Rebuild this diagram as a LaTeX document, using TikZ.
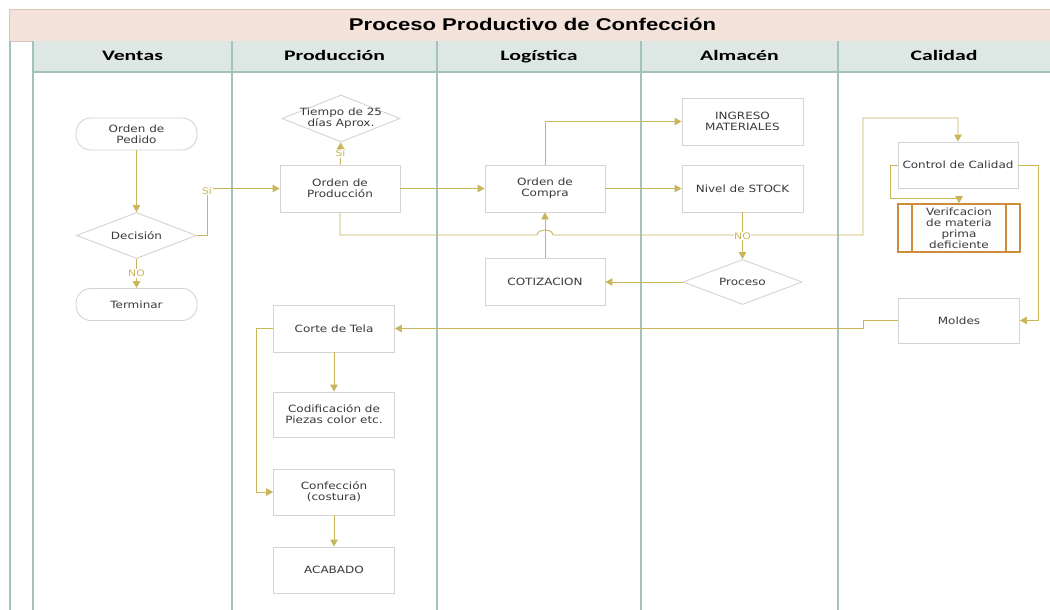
\documentclass[tikz,border=0pt]{standalone}
\usepackage{fontspec}
\usetikzlibrary{arrows.meta,shapes.geometric}
\newfontfamily\nodefont[FakeStretch=1.2]{DejaVu Sans}
\newfontfamily\titlefont[FakeStretch=1.3]{Liberation Sans}
\newfontfamily\headfont[FakeStretch=1.5]{Carlito}
\definecolor{flow}{HTML}{C9B55A}
\definecolor{lanecol}{HTML}{A3C2BA}
\definecolor{boxcol}{HTML}{D4D4D4}
\definecolor{txtcol}{HTML}{3A3A3A}
\definecolor{titlefill}{HTML}{F4E3DA}
\definecolor{titleline}{HTML}{D9C6BB}
\definecolor{headfill}{HTML}{DDE8E4}
\definecolor{subcol}{HTML}{D08A3A}
\tikzset{
  txt/.style={text=txtcol, font=\nodefont\fontsize{10}{11}\selectfont, align=center},
  stepbox/.style={rectangle, draw=boxcol, line width=0.9pt, fill=white, minimum width=121pt, minimum height=46pt, inner sep=2pt, txt},
  terminal/.style={rectangle, rounded corners=15pt, draw=boxcol, line width=0.9pt, fill=white, minimum width=121pt, minimum height=32pt, inner sep=2pt, txt},
  decision/.style={diamond, draw=boxcol, line width=0.9pt, fill=white, minimum width=120pt, minimum height=46pt, inner sep=0pt},
  dtext/.style={txt},
  subproc/.style={rectangle, draw=subcol, line width=1.6pt, fill=white, minimum width=122pt, minimum height=48pt, inner sep=1pt, txt},
  arr/.style={draw=flow, line width=0.9pt, -{Triangle[length=7pt,width=7.5pt]}},
  lbl/.style={text=flow, font=\nodefont\fontsize{9}{10}\selectfont, fill=white, inner sep=0.6pt},
  lane/.style={draw=lanecol, line width=1.3pt},
  headtxt/.style={font=\headfont\bfseries\fontsize{14.5}{16}\selectfont, text=black, anchor=base}
}
\begin{document}
\begin{tikzpicture}[x=1pt,y=-1pt]
\useasboundingbox (0,0) rectangle (1050,610);
\fill[white] (0,0) rectangle (1050,610);

% title bar and lane header row
\fill[titlefill] (9,9) rectangle (1052,41);
\draw[titleline, line width=0.8pt] (1052,9) -- (9,9) -- (9,41) -- (1052,41);
\node[font=\titlefont\bfseries\fontsize{17}{19}\selectfont, anchor=base] (title) at (532.5,31) {Proceso Productivo de Confección};
\fill[headfill] (33,41) rectangle (1052,72);
\draw[lanecol, line width=1.8pt] (33,72) -- (1052,72);

% lane separators
\foreach \lx in {10,33,232,437,641,838} {
  \draw[lane] (\lx,41) -- (\lx,610);
}

% lane names
\node[headtxt] (hventas) at (132.5,61) {Ventas};
\node[headtxt] (hprod) at (334.5,61) {Producción};
\node[headtxt] (hlog) at (539,61) {Logística};
\node[headtxt] (halm) at (739.5,61) {Almacén};
\node[headtxt] (hcal) at (944,61) {Calidad};

% Ventas
\node[terminal] (pedido) at (136.5,134) {Orden de\\Pedido};
\node[decision, label={[dtext]center:Decisión}] (decision) at (136.5,235.5) {};
\node[terminal] (terminar) at (136.5,304.5) {Terminar};

% Producción
\node[decision, minimum width=118pt, minimum height=47pt, label={[dtext]center:Tiempo de 25\\días Aprox.}] (tiempo) at (341,118.5) {};
\node[stepbox, minimum width=120pt, minimum height=47pt] (prod) at (340,188.5) {Orden de\\Producción};
\node[stepbox, minimum height=47pt] (corte) at (334,328.5) {Corte de Tela};
\node[stepbox, minimum height=45pt] (codif) at (334,414.5) {Codificación de\\Piezas color etc.};
\node[stepbox] (confe) at (334,492) {Confección\\(costura)};
\node[stepbox] (acab) at (334,570) {ACABADO};

% Logística
\node[stepbox, minimum width=120pt, minimum height=47pt] (compra) at (545,188.5) {Orden de\\Compra};
\node[stepbox, minimum width=120pt, minimum height=47pt] (cotiz) at (545,282) {COTIZACION};

% Almacén
\node[stepbox, minimum height=47pt] (ingreso) at (742.5,121.5) {INGRESO\\MATERIALES};
\node[stepbox, minimum height=47pt] (stock) at (742.5,188.5) {Nivel de STOCK};
\node[decision, minimum width=119pt, minimum height=45pt, label={[dtext]center:Proceso}] (proceso) at (742.5,282) {};

% Calidad
\node[stepbox, minimum width=120pt] (control) at (958,165) {Control de Calidad};
\node[subproc] (verif) at (959,228) {Verifcacion\\de materia\\prima\\deficiente};
\draw[subcol, line width=1.6pt] ([xshift=15pt]verif.north west) -- ([xshift=15pt]verif.south west);
\draw[subcol, line width=1.6pt] ([xshift=-15pt]verif.north east) -- ([xshift=-15pt]verif.south east);
\node[stepbox, minimum height=45pt] (moldes) at (959,320.5) {Moldes};

% bend points of the routed connectors
\coordinate (sibend) at (207,188.5);
\coordinate (hop) at (545,235);
\coordinate (pcbend) at (863,235);
\coordinate (pctop) at (863,118);
\coordinate (cvbend) at (890,198);
\coordinate (cmbend) at (1038,165);
\coordinate (mcx) at (863,0);
\coordinate (ccx) at (256,0);

% connectors
\draw[arr] (pedido) -- (decision);
\draw[arr] (decision) -- node[lbl] (no1) {NO} (terminar);
\draw[arr] (decision.east) -| (sibend) -- (prod.west);
\node[lbl] (si1) at ([yshift=-2pt]sibend) {Sí};
\draw[arr] (prod) -- node[lbl] (si2) {Sí} (tiempo);
\draw[arr] (prod) -- (compra);
\draw[arr] (compra.north) |- (ingreso.west);
\draw[arr] (compra) -- (stock);
\draw[arr] (cotiz) -- (compra);
\draw[arr] (proceso.west) -- (cotiz.east);
\draw[arr] (prod.south) |- ([xshift=-8pt]hop) arc[start angle=180, end angle=0, x radius=8pt, y radius=5pt] -- (pcbend) -- (pctop) -| (control.north);
\draw[arr] (stock) -- node[lbl] (no2) {NO} (proceso);
\draw[arr] (control.west) -| (cvbend) -- (cvbend -| verif.north) -- (verif.north);
\draw[arr] (control.east) -- (cmbend) |- (moldes.east);
\draw[arr] (moldes.west) -- (moldes.west -| mcx) |- (corte.east);
\draw[arr] (corte) -- (codif);
\draw[arr] (corte.west) -- (corte.west -| ccx) |- (confe.west);
\draw[arr] (confe) -- (acab);
\end{tikzpicture}
\end{document}
